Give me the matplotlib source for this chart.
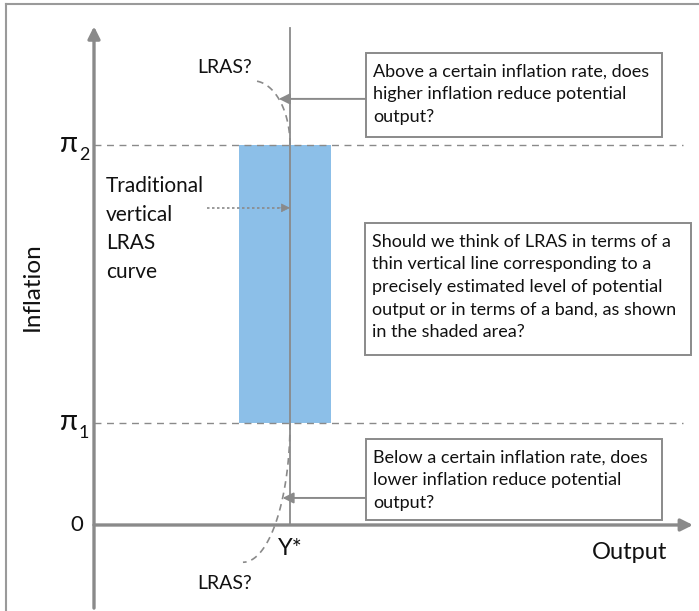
import numpy as np
import matplotlib.pyplot as plt
from matplotlib.patches import Rectangle

plt.rcParams['font.family'] = ['Lato', 'DejaVu Sans']

# chart values (data units: origin where the axes cross)
y_star = 5.0                 # potential output
pi_levels = [2.6, 9.7]       # pi_1, pi_2
band = [3.7, 6.05]           # shaded band of potential output
tick_subs = ['1', '2']
top_note = 'Above a certain inflation rate, does\nhigher inflation reduce potential\noutput?'
mid_note = ('Should we think of LRAS in terms of a\nthin vertical line corresponding to a\n'
            'precisely estimated level of potential\noutput or in terms of a band, as shown\n'
            'in the shaded area?')
low_note = 'Below a certain inflation rate, does\nlower inflation reduce potential\noutput?'
trad_note = 'Traditional\nvertical\nLRAS\ncurve'

grey = '#8a8a8a'
blue = '#8cbfe8'
ink = '#111111'
px = 39.2  # pixels per data unit

fig = plt.figure(figsize=(6.99, 6.11), dpi=100)
ax = fig.add_axes([0, 0, 1, 1])
ax.set_xlim(-94 / px, 605 / px)
ax.set_ylim(-86 / px, 525 / px)
ax.axis('off')

# outer frame (left and top only visible)
fig.add_artist(plt.Line2D([6 / 699, 6 / 699], [0, 1 - 4 / 611], color='#9a9a9a', lw=1.5))
fig.add_artist(plt.Line2D([6 / 699, 1], [1 - 4 / 611, 1 - 4 / 611], color='#9a9a9a', lw=1.5))

pi1, pi2 = pi_levels

# shaded band
ax.add_patch(Rectangle((band[0], pi1), band[1] - band[0], pi2 - pi1,
                       facecolor=blue, edgecolor='none', zorder=1))

# dashed inflation levels
for p in pi_levels:
    ax.plot([0, 15.03], [p, p], color=grey, lw=1.0, ls=(0, (5, 4)), zorder=2)

# axes with arrows
ax.annotate('', xy=(0, 12.72), xytext=(0, -2.12),
            arrowprops=dict(arrowstyle='-|>', color=grey, lw=2.4, mutation_scale=18, shrinkA=0, shrinkB=0))
ax.annotate('', xy=(15.28, 0), xytext=(0, 0),
            arrowprops=dict(arrowstyle='-|>', color=grey, lw=2.4, mutation_scale=18, shrinkA=0, shrinkB=0))

# traditional vertical LRAS
ax.plot([y_star, y_star], [0, 12.68], color=grey, lw=1.3, zorder=3)

# possible bends of the LRAS
a_top, b_top = 0.94, 1.63
cx_top = y_star - a_top
t = np.linspace(0, np.pi / 2, 80)
ax.plot(cx_top + a_top * np.cos(t), pi2 + b_top * np.sin(t), color=grey, lw=1.2, ls=(0, (4, 3)), zorder=3)
a_low, b_low = 1.2, 3.55
cx_low = y_star - a_low
ax.plot(cx_low + a_low * np.cos(t), pi1 - b_low * np.sin(t), color=grey, lw=1.2, ls=(0, (4, 3)), zorder=3)

# boxes: (left, bottom, width, height) in data units
boxes = [((366 - 94) / px, (525 - 137) / px, 296 / px, 84 / px, top_note),
         ((365 - 94) / px, (525 - 355) / px, 326 / px, 132 / px, mid_note),
         ((366 - 94) / px, (525 - 520) / px, 296 / px, 81 / px, low_note)]
for x0, y0, w, h, note in boxes:
    ax.add_patch(Rectangle((x0, y0), w, h, facecolor='white', edgecolor=grey, lw=1.4, zorder=4))
    ax.text(x0 + 7 / px, y0 + h - 11 / px, note, ha='left', va='top', fontsize=13,
            linespacing=1.5, color=ink, zorder=5)

# arrows from boxes to the bends
y_arr = 10.87
x_tip = cx_top + a_top * np.sqrt(1 - ((y_arr - pi2) / b_top) ** 2)
ax.annotate('', xy=(x_tip, y_arr), xytext=(boxes[0][0], y_arr),
            arrowprops=dict(arrowstyle='-|>', color=grey, lw=1.4, mutation_scale=16, shrinkA=0, shrinkB=0))
y_arr = 0.69
x_tip = cx_low + a_low * np.sqrt(1 - ((y_arr - pi1) / b_low) ** 2)
ax.annotate('', xy=(x_tip, y_arr), xytext=(boxes[2][0], y_arr),
            arrowprops=dict(arrowstyle='-|>', color=grey, lw=1.4, mutation_scale=16, shrinkA=0, shrinkB=0))

# traditional LRAS label and dotted pointer
ax.text(12 / px, 8.9, trad_note, ha='left', va='top', fontsize=15, linespacing=1.53, color=ink)
ax.plot([2.88, y_star - 0.25], [8.09, 8.09], color=grey, lw=1.2, ls=(0, (1.5, 1.5)))
ax.annotate('', xy=(y_star, 8.09), xytext=(y_star - 0.3, 8.09),
            arrowprops=dict(arrowstyle='-|>', color=grey, lw=0.5, mutation_scale=14, shrinkA=0, shrinkB=0))

# tick labels on the inflation axis
ax.text(-11 / px, 0, '0', ha='right', va='center', fontsize=16, color=ink)
for val, sub in zip(pi_levels, tick_subs):
    ax.text(-16 / px, val - 7 / px, 'π', ha='right', va='baseline', fontsize=21, color=ink)
    ax.text(-15 / px, val - 15 / px, sub, ha='left', va='baseline', fontsize=13, color=ink)

ax.text(y_star, -0.59, 'Y*', ha='center', va='center', fontsize=17, color=ink)
ax.text(3.32, 11.66, 'LRAS?', ha='center', va='center', fontsize=14, color=ink)
ax.text(3.32, -1.48, 'LRAS?', ha='center', va='center', fontsize=14, color=ink)
ax.text(13.67, -0.69, 'Output', ha='center', va='center', fontsize=17, color=ink)
ax.text(-1.57, 6.07, 'Inflation', ha='center', va='center', rotation=90, fontsize=17.5, color=ink)

fig.savefig('out.png', dpi=100)
